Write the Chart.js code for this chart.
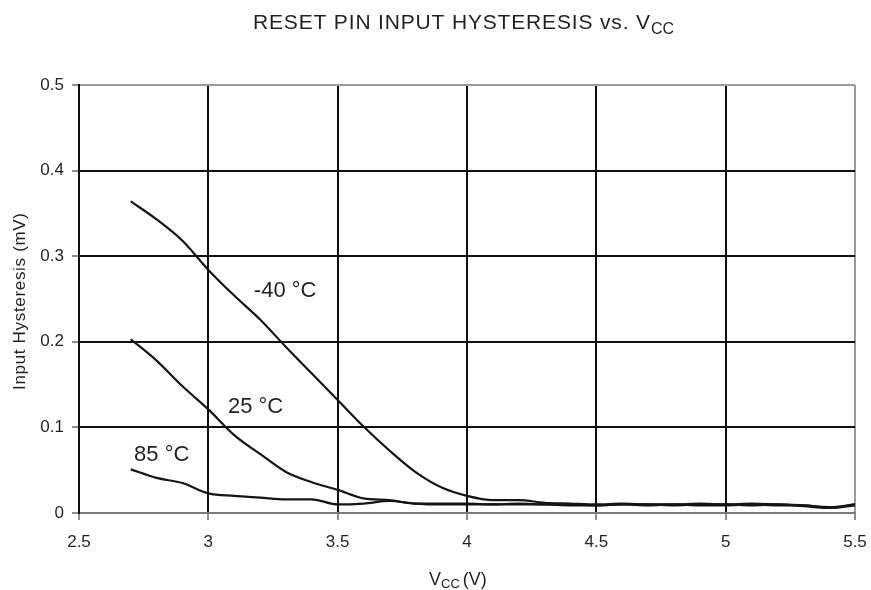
<!DOCTYPE html>
<html>
<head>
<meta charset="utf-8">
<script src="https://cdn.jsdelivr.net/npm/chart.js@4"></script>
<style>
  body { margin: 0; background: #fff; }
  #wrap { width: 871px; height: 590px; }
</style>
</head>
<body>
<div id="wrap"><canvas id="c1" width="871" height="590"></canvas></div>
<script>
// values
var vcc = [2.7, 2.8, 2.9, 3.0, 3.1, 3.2, 3.3, 3.4, 3.5, 3.6, 3.7, 3.8, 3.9, 4.0,
           4.1, 4.2, 4.3, 4.4, 4.5, 4.6, 4.7, 4.8, 4.9, 5.0, 5.1, 5.2, 5.3, 5.4, 5.5];
var hystM40 = [0.364, 0.343, 0.318, 0.284, 0.254, 0.226, 0.194, 0.163, 0.132, 0.101, 0.073, 0.048, 0.030, 0.020,
               0.015, 0.015, 0.012, 0.011, 0.010, 0.011, 0.010, 0.010, 0.011, 0.010, 0.011, 0.010, 0.009, 0.007, 0.010];
var hyst25 = [0.203, 0.178, 0.148, 0.121, 0.091, 0.069, 0.048, 0.036, 0.027, 0.017, 0.015, 0.011, 0.011, 0.011,
              0.010, 0.011, 0.010, 0.010, 0.009, 0.010, 0.010, 0.009, 0.010, 0.010, 0.009, 0.010, 0.008, 0.006, 0.010];
var hyst85 = [0.051, 0.041, 0.035, 0.023, 0.020, 0.018, 0.016, 0.016, 0.010, 0.011, 0.014, 0.011, 0.010, 0.010,
              0.010, 0.010, 0.010, 0.009, 0.009, 0.010, 0.009, 0.010, 0.009, 0.009, 0.010, 0.009, 0.009, 0.006, 0.009];
var xTicks = [2.5, 3, 3.5, 4, 4.5, 5, 5.5];
var yTicks = [0, 0.1, 0.2, 0.3, 0.4, 0.5];
var curveLabels = [
  {text: '-40 °C', x: 3.176, y: 0.259},
  {text: '25 °C', x: 3.076, y: 0.124},
  {text: '85 °C', x: 2.713, y: 0.068}
];

var FONT = '"Liberation Sans", Arial, Helvetica, sans-serif';
var INK = '#231f20';

function pts(arr) {
  return vcc.map(function(v, i) { return {x: v, y: arr[i]}; });
}

// draws text char by char so it can be stretched to a given width
function drawFit(ctx, text, x, y, width) {
  var natural = ctx.measureText(text).width;
  var gap = text.length > 1 ? (width - natural) / (text.length - 1) : 0;
  for (var i = 0; i < text.length; i++) {
    ctx.fillText(text[i], x, y);
    x += ctx.measureText(text[i]).width + gap;
  }
  return x - gap;
}

var textPlugin = {
  id: 'texts',
  afterDraw: function(chart) {
    var ctx = chart.ctx;
    var xs = chart.scales.x, ys = chart.scales.y;
    ctx.save();
    ctx.fillStyle = INK;
    ctx.textAlign = 'left';
    ctx.textBaseline = 'alphabetic';

    // title with subscript
    ctx.font = '21px ' + FONT;
    var end = drawFit(ctx, 'RESET PIN INPUT HYSTERESIS vs. V', 253, 29, 397);
    ctx.font = '16px ' + FONT;
    ctx.fillText('CC', end + 1, 34);

    // x axis title
    ctx.font = '18px ' + FONT;
    ctx.fillText('V', 429, 585);
    var vw = ctx.measureText('V').width;
    ctx.font = '13px ' + FONT;
    ctx.fillText('CC', 429 + vw, 588);
    var cw = ctx.measureText('CC').width;
    ctx.font = '18px ' + FONT;
    ctx.fillText('(V)', 429 + vw + cw + 3, 585);

    // y axis title
    ctx.save();
    ctx.translate(25, 390);
    ctx.rotate(-Math.PI / 2);
    ctx.font = '17px ' + FONT;
    drawFit(ctx, 'Input Hysteresis (mV)', 0, 0, 177);
    ctx.restore();

    // curve labels
    ctx.font = '22px ' + FONT;
    ctx.textBaseline = 'middle';
    curveLabels.forEach(function(l) {
      ctx.fillText(l.text, xs.getPixelForValue(l.x), ys.getPixelForValue(l.y));
    });
    ctx.restore();
  }
};

function lineSet(label, arr) {
  return {
    label: label,
    data: pts(arr),
    borderColor: '#151515',
    borderWidth: 2.2,
    pointRadius: 0,
    fill: false,
    cubicInterpolationMode: 'monotone'
  };
}

var ctx = document.getElementById('c1');
var config = {
  type: 'line',
  data: {
    datasets: [
      lineSet('-40 °C', hystM40),
      lineSet('25 °C', hyst25),
      lineSet('85 °C', hyst85)
    ]
  },
  options: {
    responsive: false,
    animation: false,
    layout: {
      padding: {left: 0, top: 85, right: 16, bottom: 0}
    },
    plugins: {
      legend: {display: false},
      tooltip: {enabled: false}
    },
    scales: {
      x: {
        type: 'linear',
        min: 2.5,
        max: 5.5,
        afterBuildTicks: function(scale) {
          scale.ticks = xTicks.map(function(v) { return {value: v}; });
        },
        afterFit: function(scale) {
          scale.height = 77;
          scale.paddingLeft = 0;
          scale.paddingRight = 0;
        },
        border: {color: '#7a7a7a', width: 1.8},
        grid: {
          color: function(c) { return c.tick && c.tick.value === 5.5 ? '#9a9a9a' : '#111'; },
          lineWidth: 2,
          tickColor: '#444',
          tickWidth: 1.2,
          tickLength: 7
        },
        ticks: {
          color: INK,
          padding: 12,
          maxRotation: 0,
          font: {family: FONT, size: 17},
          callback: function(v) { return String(v); }
        }
      },
      y: {
        type: 'linear',
        min: 0,
        max: 0.5,
        afterBuildTicks: function(scale) {
          scale.ticks = yTicks.map(function(v) { return {value: v}; });
        },
        afterFit: function(scale) { scale.width = 79; },
        border: {color: '#111', width: 2},
        grid: {
          color: function(c) {
            if (!c.tick) return '#111';
            if (c.tick.value === 0.5) return '#9a9a9a';
            if (c.tick.value === 0) return '#7a7a7a';
            return '#111';
          },
          lineWidth: 2,
          tickColor: '#444',
          tickWidth: 1.2,
          tickLength: 7
        },
        ticks: {
          color: INK,
          padding: 8,
          font: {family: FONT, size: 17},
          callback: function(v) { return String(v); }
        }
      }
    }
  },
  plugins: [textPlugin]
};

var chart = new Chart(ctx, config);
</script>
</body>
</html>
